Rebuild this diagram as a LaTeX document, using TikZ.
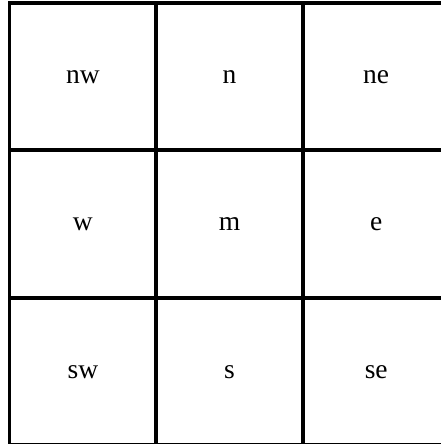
\documentclass[tikz,border=0pt]{standalone}
\usepackage{fontspec}
\setmainfont{Liberation Serif}
\usetikzlibrary{calc}

\begin{document}
\begin{tikzpicture}[every node/.style={font=\fontsize{16}{19}\selectfont}]
\def\cellw{3}
\def\cellh{3.016}
\useasboundingbox (-0.194,0.061) rectangle (8.824,-9.019);
\coordinate (O) at (0,0);

% cell borders
\foreach \i in {0,...,3}{
  \draw[line width=2.3pt,line cap=rect] (\i*\cellw,0) -- (\i*\cellw,-3*\cellh);
  \draw[line width=2.3pt,line cap=rect] (0,-\i*\cellh) -- (3*\cellw,-\i*\cellh);
}

% labels
\foreach \name [count=\k from 0] in {nw,n,ne,w,m,e,sw,s,se}{
  \pgfmathtruncatemacro{\col}{mod(\k,3)}
  \pgfmathtruncatemacro{\row}{int(\k/3)}
  \node (\name) at ($(O)+({(\col+0.5)*\cellw},{-(\row+0.5)*\cellh})$) {\name};
}
\end{tikzpicture}
\end{document}
